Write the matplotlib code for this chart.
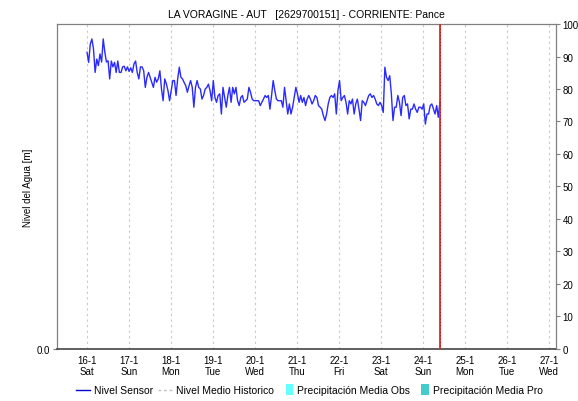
import numpy as np
import matplotlib
matplotlib.use("Agg")
import matplotlib.pyplot as plt
from matplotlib.lines import Line2D
from matplotlib.patches import Patch, Rectangle
from matplotlib.legend_handler import HandlerPatch

plt.rcParams['font.family'] = ['Liberation Sans', 'DejaVu Sans']

# Day tick labels (day 0 = 16-1 00:00)
day_labels = ["16-1", "17-1", "18-1", "19-1", "20-1", "21-1",
              "22-1", "23-1", "24-1", "25-1", "26-1", "27-1"]
weekday_labels = ["Sat", "Sun", "Mon", "Tue", "Wed", "Thu",
                  "Fri", "Sat", "Sun", "Mon", "Tue", "Wed"]

# Sensor level readings (right axis scale), from 16-1 00:00 up to "now"
sensor_level = [
    91.3, 88.2, 93.8, 95.4, 92.3, 85.1, 89.2, 87.2, 90.8, 88.3,
    95.4, 91.3, 88.3, 88.7, 83.1, 88.6, 86.8, 88.2, 85.1, 88.6,
    85.1, 85.1, 86.8, 87.0, 85.6, 86.8, 85.4, 86.5, 85.1, 87.7,
    88.6, 85.1, 83.1, 86.8, 86.8, 85.6, 80.5, 83.6, 85.1, 83.6,
    82.1, 80.5, 83.6, 82.1, 83.1, 85.6, 80.0, 76.4, 83.1, 81.6,
    79.5, 76.4, 79.5, 82.6, 82.6,
    78.0, 83.1, 86.7, 83.6, 83.1, 82.0, 81.0, 79.0, 81.0, 82.6,
    80.5, 74.4, 80.5, 82.6, 80.5, 80.0, 76.9, 78.0, 80.0, 80.5,
    81.5, 79.5, 76.4, 82.6, 77.4, 75.9, 78.0, 78.5, 72.3, 80.5,
    77.4, 74.4, 78.0, 80.5, 75.9, 80.5, 78.5, 80.5, 76.4, 74.9,
    77.4, 78.0, 75.9, 76.4, 76.9, 80.5, 79.0, 76.9, 76.4, 76.4,
    76.4, 76.4, 74.9, 75.9,
    76.9, 78.0, 77.4, 78.0, 73.8, 78.0, 82.6, 79.5, 76.9, 76.4,
    76.4, 76.4, 74.4, 80.5, 76.4, 72.3, 75.4, 72.3, 74.4, 77.4,
    80.5, 78.5, 75.9, 78.0, 75.9, 77.4, 74.9, 76.9, 78.0, 76.9,
    75.4, 76.4, 78.0, 77.4, 74.9, 74.4, 73.8, 71.8, 70.3, 72.3,
    75.4, 77.4, 78.0, 77.4, 78.5, 72.3, 79.5, 82.6, 76.4, 77.4,
    78.0, 75.9, 72.3, 76.4,
    75.4, 76.9, 72.3, 75.4, 76.9, 73.8, 70.3, 76.4, 75.9, 74.9,
    76.4, 78.0, 78.5, 77.4, 78.0, 76.9, 75.4, 74.9, 75.9, 74.9,
    72.8, 86.7, 83.6, 82.6, 84.1, 78.5, 70.3, 74.4, 74.4, 78.0,
    75.9, 71.8, 77.4, 78.0, 74.9, 75.4, 70.8, 73.8, 73.8, 75.4,
    73.8, 72.8, 74.4, 74.4, 73.8, 75.4, 69.2, 72.3, 72.3, 74.9,
    75.4, 73.8, 72.3, 74.9, 71.3, 75.9,
]
now_day = 8.4  # current time marker, 24-1 ~09:36

n_days = len(day_labels)
days = np.arange(n_days)
t = np.linspace(0.0, now_day, len(sensor_level))

fig = plt.figure(figsize=(5.78, 4.02), dpi=100)
ax = fig.add_axes([0.0986, 0.1294, 0.8631, 0.8084])

ax.set_xlim(-0.715, n_days - 1 + 0.16)
ax.set_ylim(0, 100)

# daily dashed grid
for d in days:
    ax.axvline(d, color='#c8c8c8', lw=0.8, ls=(0, (2, 3)), zorder=1)

ax.plot(t, sensor_level, color='#2a2aff', lw=1.0, zorder=3)

# "now" marker
ax.axvline(now_day, color='#ee2222', lw=1.3, zorder=4)
ax.axvline(now_day, color='#7a1010', lw=0.6, ls=(0, (1, 3)), zorder=5)

for side in ('left', 'right', 'top'):
    ax.spines[side].set_color('#808080')
    ax.spines[side].set_linewidth(0.9)
ax.spines['bottom'].set_color('#444444')
ax.spines['bottom'].set_linestyle((0, (1, 1)))
ax.spines['bottom'].set_linewidth(1.2)

ax.set_xticks(days)
ax.set_xticklabels([f"{a}\n{b}" for a, b in zip(day_labels, weekday_labels)],
                   fontsize=7, linespacing=1.15)
ax.tick_params(axis='x', length=0, pad=4)

ax.set_yticks([0])
ax.set_yticklabels(["0.0"], fontsize=7)
ax.tick_params(axis='y', length=3, color='#808080', pad=2)
ax.set_ylabel("Nivel del Agua [m]", fontsize=7, labelpad=3)

ax2 = ax.twinx()
ax2.set_ylim(0, 100)
ax2.set_yticks(np.arange(0, 101, 10))
ax2.tick_params(axis='y', length=3, color='#808080', labelsize=7, pad=2)
for s in ax2.spines.values():
    s.set_visible(False)

ax.set_title("LA VORAGINE - AUT   [2629700151] - CORRIENTE: Pance",
             fontsize=7.5, pad=5)


def narrow_box(legend, orig_handle, xdescent, ydescent, width, height, fontsize):
    w = 5.5
    return Rectangle((width - w - xdescent, -ydescent - 1.5), w, height + 3)


handles = [
    Line2D([], [], color='#0000cc', lw=1.0),
    Line2D([], [], color='#c0c0c0', lw=1.0, ls=(0, (2, 2))),
    Patch(facecolor='#66ffff', edgecolor='none'),
    Patch(facecolor='#44cccc', edgecolor='none'),
]
labels = ["Nivel Sensor", "Nivel Medio Historico",
          "Precipitación Media Obs", "Precipitación Media Pro"]
fig.legend(handles, labels, loc='center', bbox_to_anchor=(0.535, 0.027),
           ncol=4, frameon=False, fontsize=7.5, handlelength=1.4,
           handletextpad=0.35, columnspacing=0.45,
           handler_map={Patch: HandlerPatch(patch_func=narrow_box)})

fig.savefig("out.png", dpi=100)
